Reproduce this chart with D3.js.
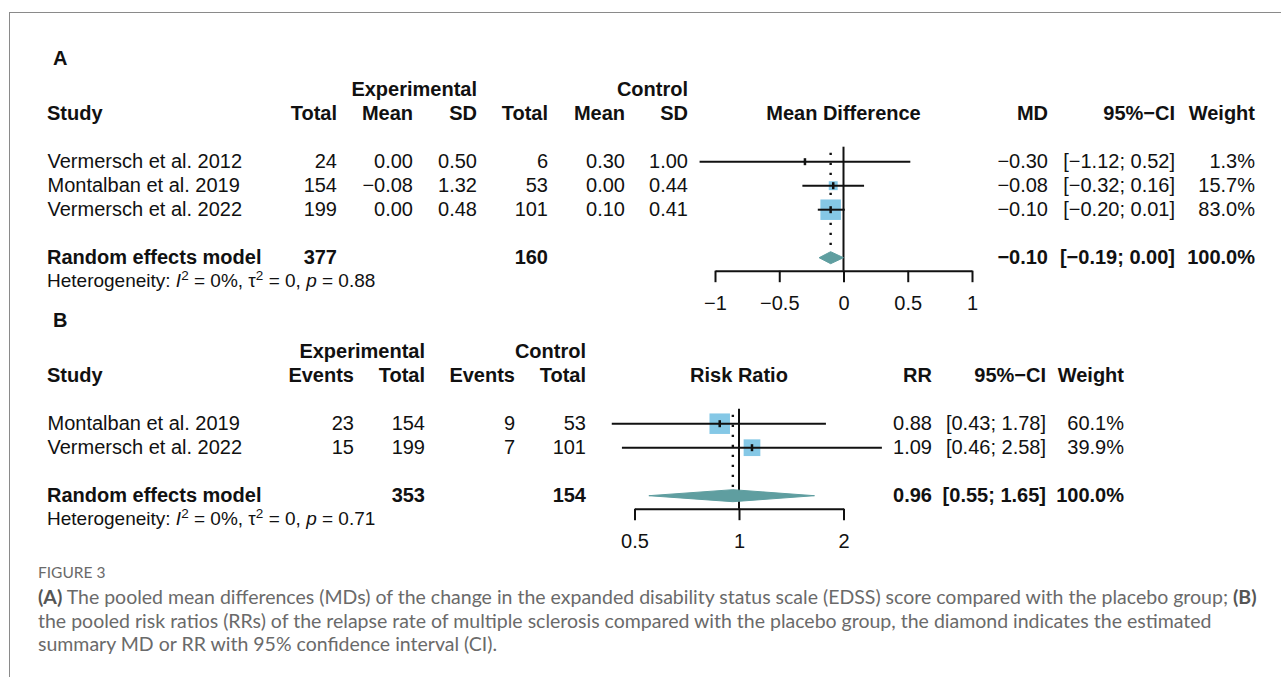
<!DOCTYPE html>
<html><head><meta charset="utf-8">
<script src="https://cdn.jsdelivr.net/npm/d3@7"></script>
<style>
html,body{margin:0;padding:0;background:#fff;}
svg{display:block;}
</style></head>
<body>
<svg id="chart" width="1281" height="677"></svg>
<script>
// ---------- Panel A data (mean difference) ----------
const studiesA   = ["Vermersch et al. 2012", "Montalban et al. 2019", "Vermersch et al. 2022"];
const expTotalA  = [24, 154, 199];
const expMeanA   = [0.00, -0.08, 0.00];
const expSdA     = [0.50, 1.32, 0.48];
const ctlTotalA  = [6, 53, 101];
const ctlMeanA   = [0.30, 0.00, 0.10];
const ctlSdA     = [1.00, 0.44, 0.41];
const mdA        = [-0.30, -0.08, -0.10];
const loA        = [-1.12, -0.32, -0.20];
const hiA        = [0.52, 0.16, 0.01];
const weightA    = [1.3, 15.7, 83.0];
const pooledA    = [-0.10, -0.19, 0.00];   // estimate, lower, upper
const pooledTotA = [377, 160];
const hetA       = ["0%", "0", "0.88"];
const ticksA     = [-1, -0.5, 0, 0.5, 1];

// ---------- Panel B data (risk ratio) ----------
const studiesB   = ["Montalban et al. 2019", "Vermersch et al. 2022"];
const expEventsB = [23, 15];
const expTotalB  = [154, 199];
const ctlEventsB = [9, 7];
const ctlTotalB  = [53, 101];
const rrB        = [0.88, 1.09];
const loB        = [0.43, 0.46];
const hiB        = [1.78, 2.58];
const weightB    = [60.1, 39.9];
const pooledB    = [0.96, 0.55, 1.65];
const pooledTotB = [353, 154];
const hetB       = ["0%", "0", "0.71"];
const ticksB     = [0.5, 1, 2];

const caption = [
  [["b","(A)"],["n"," The pooled mean differences (MDs) of the change in the expanded disability status scale (EDSS) score compared with the placebo group; "],["b","(B)"]],
  [["n","the pooled risk ratios (RRs) of the relapse rate of multiple sclerosis compared with the placebo group, the diamond indicates the estimated"]],
  [["n","summary MD or RR with 95% confidence interval (CI)."]]
];

// ---------- drawing ----------
const svg = d3.select("#chart");
const FONT = "'Liberation Sans', Arial, Helvetica, sans-serif";
const FS = 20;
const SQ = "#85c8e6", DIA = "#5f9ea0", INK = "#111";

svg.append("rect").attr("x", 9.5).attr("y", 12.5).attr("width", 1400).attr("height", 800)
  .attr("fill", "none").attr("stroke", "#8a8a8a").attr("stroke-width", 1);

const f2 = d3.format(".2f"), f1 = d3.format(".1f");

function txt(g, x, y, s, anchor, bold, size) {
  return g.append("text").attr("x", x).attr("y", y).text(s)
    .attr("text-anchor", anchor || "end")
    .attr("font-family", FONT).attr("font-size", size || FS)
    .attr("font-weight", bold ? "bold" : "normal").attr("fill", INK);
}

function hetText(g, x, y, vals) {
  const t = g.append("text").attr("x", x).attr("y", y).attr("font-family", FONT)
    .attr("font-size", 19).attr("fill", INK);
  t.append("tspan").text("Heterogeneity: ");
  t.append("tspan").attr("font-style", "italic").text("I");
  t.append("tspan").attr("dy", -7).attr("font-size", 13.5).text("2");
  t.append("tspan").attr("dy", 7).text(" = " + vals[0] + ", τ");
  t.append("tspan").attr("dy", -7).attr("font-size", 13.5).text("2");
  t.append("tspan").attr("dy", 7).text(" = " + vals[1] + ", ");
  t.append("tspan").attr("font-style", "italic").text("p");
  t.append("tspan").text(" = " + vals[2]);
}

function drawPanel(p) {
  const g = svg.append("g").attr("transform", `translate(0,${p.dy})`);
  txt(g, 53, 65, p.label, "start", true);
  // group headers
  txt(g, p.expRight, 96, "Experimental", "end", true);
  txt(g, p.ctlRight, 96, "Control", "end", true);
  // column headers
  txt(g, 47, 120, "Study", "start", true);
  p.cols.forEach(c => txt(g, c.x, 120, c.head, "end", true));
  txt(g, p.x(p.center), 120, p.effHead, "middle", true);
  p.rcols.forEach(c => txt(g, c.x, 120, c.head, "end", true));

  const rowY = d3.scaleLinear().domain([0, 1]).range([161.7, 185.7]);
  const n = p.studies.length;
  const poolIdx = n + 1;
  const base = 6.5;

  p.studies.forEach((s, i) => {
    const y = rowY(i);
    txt(g, 47.5, y + base, s, "start");
    p.cols.forEach(c => txt(g, c.x, y + base, c.fmt(c.vals[i]), "end"));
    p.rcols.forEach(c => txt(g, c.x, y + base, c.fmt(c.vals[i]), "end"));
  });
  const yp = rowY(poolIdx);
  txt(g, 47, yp + base, "Random effects model", "start", true);
  p.poolCols.forEach(c => txt(g, c.x, yp + base, c.val, "end", true));
  p.poolRight.forEach(c => txt(g, c.x, yp + base, c.val, "end", true));
  hetText(g, 47, yp + base + 23, p.het);

  // plot
  const x = p.x;
  const axisY = yp + 13;
  // null line
  g.append("line").attr("x1", x(p.nullV)).attr("x2", x(p.nullV))
    .attr("y1", rowY(0) - 15).attr("y2", axisY)
    .attr("stroke", INK).attr("stroke-width", 2);
  // dotted pooled line
  g.append("line").attr("x1", x(p.pooled[0])).attr("x2", x(p.pooled[0]))
    .attr("y1", rowY(0) - 9).attr("y2", yp - 8)
    .attr("stroke", INK).attr("stroke-width", 2.4).attr("stroke-dasharray", "2.2 7.8");
  const side = d3.scaleSqrt().domain([0, d3.max(p.w)]).range([0, 20.5]);
  p.studies.forEach((s, i) => {
    const y = rowY(i), sd = side(p.w[i]);
    g.append("rect").attr("x", x(p.est[i]) - sd / 2).attr("y", y - sd / 2)
      .attr("width", sd).attr("height", sd).attr("fill", SQ);
    g.append("line").attr("x1", x(p.lo[i])).attr("x2", x(p.hi[i]))
      .attr("y1", y).attr("y2", y).attr("stroke", INK).attr("stroke-width", 2);
    g.append("line").attr("x1", x(p.est[i])).attr("x2", x(p.est[i]))
      .attr("y1", y - 3.5).attr("y2", y + 3.5).attr("stroke", INK).attr("stroke-width", 2.5);
  });
  // diamond
  const pe = p.pooled;
  g.append("polygon").attr("points", [[x(pe[1]), yp], [x(pe[0]), yp - 6], [x(pe[2]), yp], [x(pe[0]), yp + 6]].map(d => d.join(",")).join(" "))
    .attr("fill", DIA).attr("stroke", DIA).attr("stroke-width", 1);
  // axis
  const ax = g.append("g").attr("transform", `translate(0,${axisY})`)
    .call(d3.axisBottom(x).tickValues(p.ticks).tickFormat(d3.format("")).tickSize(11.5).tickSizeOuter(0).tickPadding(14));
  ax.select(".domain").attr("stroke", INK).attr("stroke-width", 2);
  ax.selectAll(".tick line").attr("stroke", INK).attr("stroke-width", 2);
  ax.selectAll(".tick text").attr("font-family", FONT).attr("font-size", FS).attr("fill", INK);
}

// Panel A
const xA = d3.scaleLinear().domain([-1, 1]).range([715, 972]);
drawPanel({
  dy: 0, label: "A", x: xA, center: 0, nullV: 0, effHead: "Mean Difference",
  expRight: 477, ctlRight: 688,
  studies: studiesA, est: mdA, lo: loA, hi: hiA, w: weightA, pooled: pooledA, het: hetA, ticks: ticksA,
  cols: [
    {x: 337, head: "Total", vals: expTotalA, fmt: d3.format("d")},
    {x: 413, head: "Mean", vals: expMeanA, fmt: f2},
    {x: 477, head: "SD", vals: expSdA, fmt: f2},
    {x: 548, head: "Total", vals: ctlTotalA, fmt: d3.format("d")},
    {x: 625, head: "Mean", vals: ctlMeanA, fmt: f2},
    {x: 688, head: "SD", vals: ctlSdA, fmt: f2}
  ],
  rcols: [
    {x: 1048, head: "MD", vals: mdA, fmt: f2},
    {x: 1175, head: "95%−CI", vals: d3.range(3), fmt: i => `[${f2(loA[i])}; ${f2(hiA[i])}]`},
    {x: 1255, head: "Weight", vals: weightA, fmt: v => f1(v) + "%"}
  ],
  poolCols: [{x: 337, val: pooledTotA[0]}, {x: 548, val: pooledTotA[1]}],
  poolRight: [
    {x: 1048, val: f2(pooledA[0])},
    {x: 1175, val: `[${f2(pooledA[1])}; ${f2(pooledA[2])}]`},
    {x: 1255, val: "100.0%"}
  ]
});

// Panel B
const xB = d3.scaleLog().domain([0.5, 2]).range([634.5, 843.5]);
drawPanel({
  dy: 262, label: "B", x: xB, center: 1, nullV: 1, effHead: "Risk Ratio",
  expRight: 425, ctlRight: 586,
  studies: studiesB, est: rrB, lo: loB, hi: hiB, w: weightB, pooled: pooledB, het: hetB, ticks: ticksB,
  cols: [
    {x: 354, head: "Events", vals: expEventsB, fmt: d3.format("d")},
    {x: 425, head: "Total", vals: expTotalB, fmt: d3.format("d")},
    {x: 515, head: "Events", vals: ctlEventsB, fmt: d3.format("d")},
    {x: 586, head: "Total", vals: ctlTotalB, fmt: d3.format("d")}
  ],
  rcols: [
    {x: 932, head: "RR", vals: rrB, fmt: f2},
    {x: 1046, head: "95%−CI", vals: d3.range(2), fmt: i => `[${f2(loB[i])}; ${f2(hiB[i])}]`},
    {x: 1124, head: "Weight", vals: weightB, fmt: v => f1(v) + "%"}
  ],
  poolCols: [{x: 425, val: pooledTotB[0]}, {x: 586, val: pooledTotB[1]}],
  poolRight: [
    {x: 932, val: f2(pooledB[0])},
    {x: 1046, val: `[${f2(pooledB[1])}; ${f2(pooledB[2])}]`},
    {x: 1124, val: "100.0%"}
  ]
});

// Caption
const CF = "Lato, 'Open Sans', sans-serif";
svg.append("text").attr("x", 38).attr("y", 578).text("FIGURE 3")
  .attr("font-family", CF).attr("font-size", 15.5).attr("fill", "#6a6a6a");
const capLines = caption.map((parts, li) => {
  const t = svg.append("text").attr("x", 38).attr("y", 604 + li * 23.5)
    .attr("font-family", CF).attr("font-size", 16).attr("fill", "#6a6a6a");
  parts.forEach(([k, s]) => {
    t.append("tspan").text(s).attr("font-weight", k === "b" ? "bold" : "normal")
      .attr("fill", k === "b" ? "#555" : "#6a6a6a");
  });
  return t;
});
// fit caption width to the figure's text block (first line spans to x≈1260)
const w0 = capLines[0].node().getComputedTextLength();
const capSize = Math.min(19.5, 16 * (1260 - 38) / w0);
capLines.forEach(t => t.attr("font-size", capSize));
</script>
</body></html>
